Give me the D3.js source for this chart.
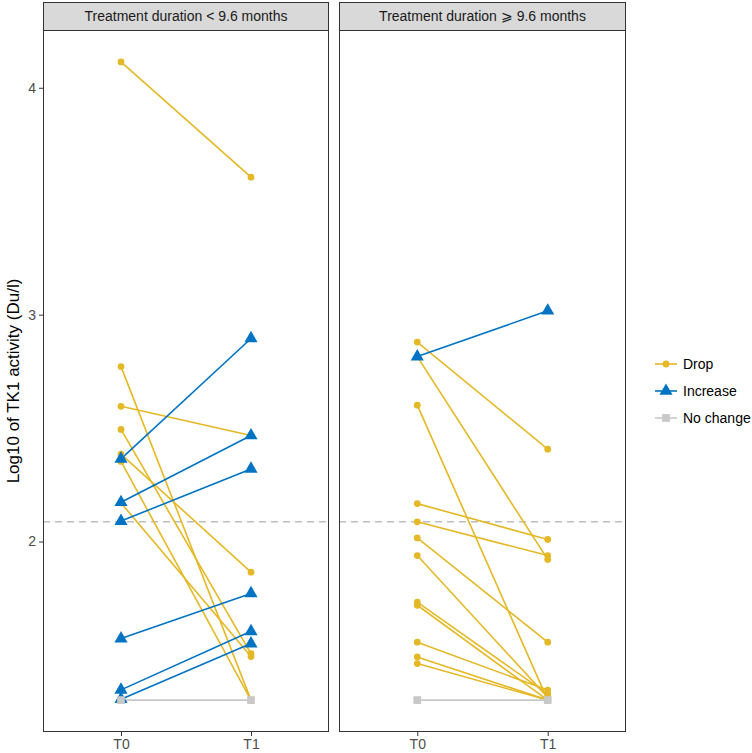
<!DOCTYPE html>
<html><head><meta charset="utf-8">
<script src="https://cdn.jsdelivr.net/npm/d3@7"></script>
<style>body{margin:0;background:#fff}svg{display:block;font-family:"Liberation Sans",Arial,Helvetica,sans-serif}</style>
</head><body><svg id="c" width="752" height="753"></svg>
<script>
const timepoints = ["T0", "T1"];
const panelTitles = ["Treatment duration < 9.6 months", "Treatment duration \u2A7E 9.6 months"];
const groups = ["Drop", "Increase", "No change"];
const groupColors = ["#E5B826", "#0073C2", "#C8C8C8"];
const yTicks = [2, 3, 4];
const threshold = 2.087;

// Left panel (< 9.6 months)
const leftGroup = ["Drop","Drop","Drop","Drop","Drop","Drop","Drop",
                   "Increase","Increase","Increase","Increase","Increase","Increase","No change"];
const leftT0 = [4.114, 2.771, 2.596, 2.494, 2.385, 2.353, 2.170,
                2.364, 2.173, 2.090, 1.572, 1.346, 1.305, 1.301];
const leftT1 = [3.606, 1.301, 2.467, 1.506, 1.865, 1.301, 1.493,
                2.895, 2.467, 2.320, 1.771, 1.604, 1.550, 1.301];

// Right panel (>= 9.6 months)
const rightGroup = ["Drop","Drop","Drop","Drop","Drop","Drop","Drop","Drop","Drop","Drop","Drop","Drop",
                    "Increase","No change"];
const rightT0 = [2.879, 2.815, 2.601, 2.167, 2.087, 2.016, 1.938, 1.733, 1.719, 1.556, 1.491, 1.462,
                 2.815, 1.301];
const rightT1 = [2.407, 1.921, 1.301, 2.009, 1.938, 1.556, 1.313, 1.327, 1.301, 1.345, 1.301, 1.301,
                 3.017, 1.301];

const panelsData = [
  {title: panelTitles[0], group: leftGroup, t0: leftT0, t1: leftT1},
  {title: panelTitles[1], group: rightGroup, t0: rightT0, t1: rightT1}
];

const svg = d3.select("#c");
const panelX = [[43, 329], [339, 626]];
const pTop = 30, pBottom = 732, stripTop = 2;

const allVals = leftT0.concat(leftT1, rightT0, rightT1);
const ymin = d3.min(allVals), ymax = d3.max(allVals);
const pad = (ymax - ymin) * 0.05;
const y = d3.scaleLinear().domain([ymin - pad, ymax + pad]).range([pBottom, pTop]);
const color = d3.scaleOrdinal().domain(groups).range(groupColors);

const sym = {
  "Drop": d3.symbol().type(d3.symbolCircle).size(36),
  "Increase": d3.symbol().type(d3.symbolTriangle).size(75),
  "No change": d3.symbol().type(d3.symbolSquare).size(60)
};

panelsData.forEach((p, pi) => {
  const [x0, x1] = panelX[pi];
  const x = d3.scalePoint().domain(timepoints).range([x0, x1]).padding(0.6);
  const g = svg.append("g");
  g.append("rect").attr("x", x0).attr("y", pTop).attr("width", x1 - x0).attr("height", pBottom - pTop).attr("fill", "#fff");
  g.append("line").attr("x1", x0).attr("x2", x1).attr("y1", y(threshold)).attr("y2", y(threshold))
    .attr("stroke", "#BDBDBD").attr("stroke-width", 1.3).attr("stroke-dasharray", "7,5");
  const rows = p.t0.map((v, i) => ({g: p.group[i], a: v, b: p.t1[i]}));
  const order = ["Drop", "Increase", "No change"];
  order.forEach(grp => {
    rows.filter(r => r.g === grp).forEach(r => {
      g.append("line").attr("x1", x("T0")).attr("y1", y(r.a)).attr("x2", x("T1")).attr("y2", y(r.b))
        .attr("stroke", color(r.g)).attr("stroke-width", 1.6);
    });
  });
  order.forEach(grp => {
    rows.filter(r => r.g === grp).forEach(r => {
      [["T0", r.a], ["T1", r.b]].forEach(([t, v]) => {
        g.append("path").attr("d", sym[r.g]()).attr("transform", `translate(${x(t)},${y(v)})`)
          .attr("fill", color(r.g));
      });
    });
  });
  g.append("rect").attr("x", x0 + 0.5).attr("y", pTop + 0.5).attr("width", x1 - x0 - 1).attr("height", pBottom - pTop - 1)
    .attr("fill", "none").attr("stroke", "#333").attr("stroke-width", 1);
  g.append("rect").attr("x", x0 + 0.5).attr("y", stripTop + 0.5).attr("width", x1 - x0 - 1).attr("height", pTop - stripTop)
    .attr("fill", "#D9D9D9").attr("stroke", "#333").attr("stroke-width", 1);
  g.append("text").attr("x", (x0 + x1) / 2).attr("y", (stripTop + pTop) / 2 + 5).attr("text-anchor", "middle")
    .attr("font-size", 14).attr("fill", "#1A1A1A").text(p.title);
  const xa = g.append("g").attr("transform", `translate(0,${pBottom})`)
    .call(d3.axisBottom(x).tickSize(4).tickPadding(3));
  xa.select(".domain").remove();
  xa.selectAll("line").attr("stroke", "#333");
  xa.selectAll("text").attr("font-size", 14).attr("fill", "#4D4D4D").attr("font-family", "Liberation Sans, Arial, sans-serif");
  if (pi === 0) {
    const ya = g.append("g").attr("transform", `translate(${x0},0)`)
      .call(d3.axisLeft(y).tickValues(yTicks).tickFormat(d3.format("d")).tickSize(4).tickPadding(3));
    ya.select(".domain").remove();
    ya.selectAll("line").attr("stroke", "#333");
    ya.selectAll("text").attr("font-size", 14).attr("fill", "#4D4D4D").attr("font-family", "Liberation Sans, Arial, sans-serif");
  }
});

svg.append("text").attr("transform", `translate(19,${(pTop + pBottom) / 2}) rotate(-90)`)
  .attr("text-anchor", "middle").attr("font-size", 17).attr("fill", "#000")
  .text("Log10 of TK1 activity (Du/l)");

const leg = svg.append("g").attr("transform", "translate(655,364)");
groups.forEach((grp, i) => {
  const gy = i * 27;
  leg.append("line").attr("x1", 0).attr("x2", 22).attr("y1", gy).attr("y2", gy)
    .attr("stroke", color(grp)).attr("stroke-width", 1.6);
  leg.append("path").attr("d", sym[grp]()).attr("transform", `translate(11,${gy})`).attr("fill", color(grp));
  leg.append("text").attr("x", 28).attr("y", gy + 5).attr("font-size", 14).attr("fill", "#000").text(grp);
});
</script></body></html>
